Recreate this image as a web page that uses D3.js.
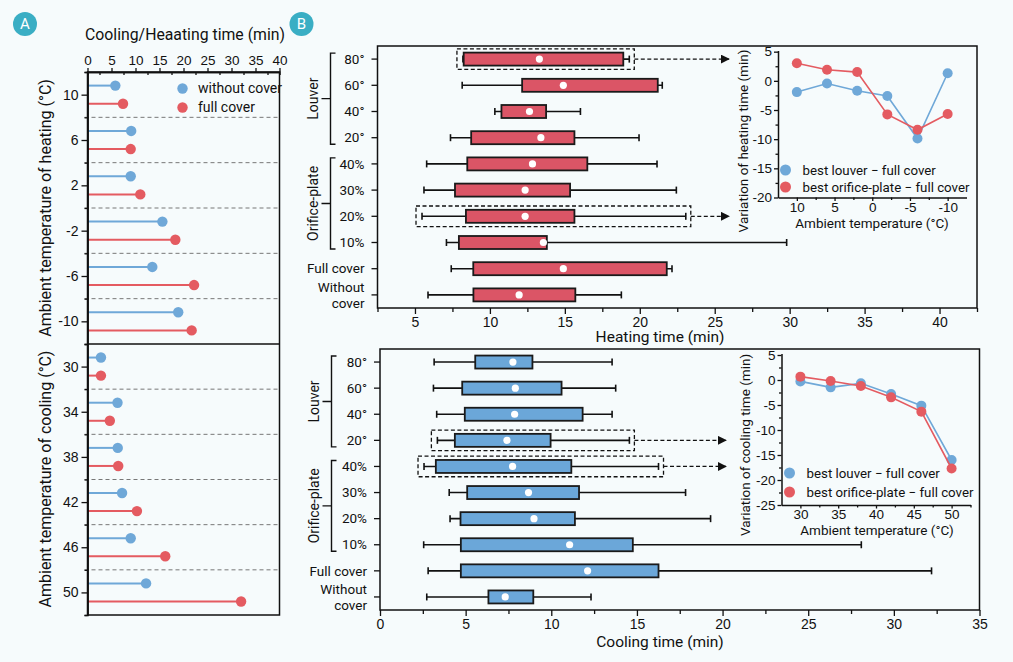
<!doctype html>
<html lang="en">
<head>
  <meta charset="utf-8">
  <title>Heating and cooling time</title>
  <script src="https://d3js.org/d3.v7.min.js"></script>
  <style>
    body { margin: 0; background: #f6fbfc; }
    svg { font-family: Roboto, 'Liberation Sans', sans-serif; display: block; }
  </style>
</head>
<body>
  <div id="chart"></div>
<script>
  // ---- panel A data (lollipops)
  var heat_temps = [10, 6, 2, -2, -6, -10];
  var heat_without = [5.8, 9.1, 9.0, 15.6, 13.5, 18.9];
  var heat_full = [7.4, 9.0, 11.0, 18.3, 22.2, 21.7];
  var cool_temps = [30, 34, 38, 42, 46, 50];
  var cool_without = [2.8, 6.25, 6.3, 7.2, 9.0, 12.2];
  var cool_full = [2.8, 4.65, 6.4, 10.3, 16.2, 32.0];
  var heat_sep = [8, 4, 0, -4, -8];
  var cool_sep = [32, 36, 40, 44, 48];

  // ---- panel B data (box plots)
  var rows = ['80°', '60°', '40°', '20°', '40%', '30%', '20%', '10%', 'Full cover', 'Without\ncover'];
  var heat_min  = [8.2, 8.15, 10.33, 7.37, 5.78, 5.6, 5.47, 7.1, 7.42, 5.87];
  var heat_q1   = [8.25, 12.15, 10.77, 8.75, 8.49, 7.67, 8.4, 7.93, 8.89, 8.9];
  var heat_q3   = [18.9, 21.2, 13.75, 15.64, 16.5, 15.35, 15.64, 13.8, 21.8, 15.7];
  var heat_max  = [19.3, 21.5, 16.04, 19.95, 21.15, 22.44, 23.07, 29.8, 22.15, 18.77];
  var heat_mean = [13.3, 14.9, 12.64, 13.4, 12.84, 12.35, 12.35, 13.57, 14.9, 11.95];
  var cool_min  = [3.16, 3.12, 3.31, 3.35, 2.57, 4.04, 4.09, 2.55, 2.81, 2.73];
  var cool_q1   = [5.56, 4.8, 4.95, 4.37, 3.26, 5.09, 4.7, 4.72, 4.72, 6.33];
  var cool_q3   = [8.9, 10.6, 11.83, 9.96, 11.17, 11.62, 11.38, 14.76, 16.26, 8.95];
  var cool_max  = [13.55, 13.76, 13.55, 14.56, 16.26, 17.84, 19.3, 28.1, 32.2, 12.32];
  var cool_mean = [7.76, 7.9, 7.86, 7.41, 7.74, 8.67, 8.99, 11.07, 12.12, 7.31];
  var heat_best = ['80°', '20%'];
  var cool_best = ['20°', '40%'];

  // ---- inset data (best - full cover)
  var heat_louver_diff = [-1.93, -0.45, -1.7, -2.6, -9.9, 1.3];
  var heat_orifice_diff = [3.0, 1.9, 1.5, -5.75, -8.4, -5.7];
  var cool_louver_diff = [-0.28, -1.47, -0.67, -2.8, -5.13, -16.0];
  var cool_orifice_diff = [0.67, -0.2, -1.2, -3.47, -6.33, -17.7];

  var blue = '#6fa8d8', red = '#e45b61';
  var box_red = '#db5566', box_blue = '#6ba7d9';
  var badge = '#3aaec4';
  var plain = d => String(d); // hyphen minus like the original

  var svg = d3.select('#chart').append('svg')
    .attr('width', 1013).attr('height', 662)
    .style('background', '#f6fbfc');

  svg.append('defs').append('marker')
    .attr('id', 'arrow').attr('viewBox', '0 0 10 10')
    .attr('refX', 9).attr('refY', 5)
    .attr('markerWidth', 7).attr('markerHeight', 7)
    .attr('orient', 'auto')
    .append('path').attr('d', 'M0,0L10,5L0,10Z').attr('fill', '#111');

  function style_axis(g, size) {
    g.selectAll('path.domain').attr('stroke', '#111').attr('stroke-width', 1.5);
    g.selectAll('.tick line').attr('stroke', '#111').attr('stroke-width', 1.3);
    g.selectAll('.tick text').attr('fill', '#111').style('font-size', size + 'px');
  }

  // badges
  [['A', 25], ['B', 301.5]].forEach(function (b) {
    svg.append('circle').attr('cx', b[1]).attr('cy', 24).attr('r', 12).attr('fill', badge);
    svg.append('text').attr('x', b[1]).attr('y', 24).attr('dy', '0.36em')
      .attr('text-anchor', 'middle').attr('fill', '#fff').style('font-size', '15px').text(b[0]);
  });

  // ================= panel A
  var xA = d3.scaleLinear().domain([0, 40]).range([87.5, 279.5]);
  var yHeat = d3.scaleLinear().domain([12, -12]).range([72, 344]);
  var yCool = d3.scaleLinear().domain([28, 52]).range([344, 615]);

  var pA = svg.append('g');

  // dashed separators
  pA.selectAll('line.hsep').data(heat_sep).enter().append('line')
    .attr('x1', xA(0) - 3).attr('x2', xA(40))
    .attr('y1', d => yHeat(d)).attr('y2', d => yHeat(d))
    .attr('stroke', '#777').attr('stroke-dasharray', '4,3').attr('stroke-width', 1);
  pA.selectAll('line.csep').data(cool_sep).enter().append('line')
    .attr('x1', xA(0) - 3).attr('x2', xA(40))
    .attr('y1', d => yCool(d)).attr('y2', d => yCool(d))
    .attr('stroke', '#777').attr('stroke-dasharray', '4,3').attr('stroke-width', 1);

  function lollipop(temps, vals, yscale, off, color) {
    var g = pA.append('g');
    g.selectAll('line').data(vals).enter().append('line')
      .attr('x1', xA(0)).attr('x2', d => xA(d))
      .attr('y1', (d, i) => yscale(temps[i] + off)).attr('y2', (d, i) => yscale(temps[i] + off))
      .attr('stroke', color).attr('stroke-width', 2);
    g.selectAll('circle').data(vals).enter().append('circle')
      .attr('cx', d => xA(d)).attr('cy', (d, i) => yscale(temps[i] + off))
      .attr('r', 5.2).attr('fill', color);
  }
  lollipop(heat_temps, heat_without, yHeat, 0.8, blue);
  lollipop(heat_temps, heat_full, yHeat, -0.8, red);
  lollipop(cool_temps, cool_without, yCool, -0.8, blue);
  lollipop(cool_temps, cool_full, yCool, 0.8, red);

  // frame
  pA.append('rect').attr('x', xA(0)).attr('y', yHeat(12))
    .attr('width', xA(40) - xA(0)).attr('height', yCool(52) - yHeat(12))
    .attr('fill', 'none').attr('stroke', '#111').attr('stroke-width', 1.5);
  pA.append('line').attr('x1', xA(0)).attr('x2', xA(40))
    .attr('y1', yHeat(-12)).attr('y2', yHeat(-12))
    .attr('stroke', '#111').attr('stroke-width', 1.5);

  // axes
  var axA = pA.append('g').attr('transform', 'translate(0,' + yHeat(12) + ')')
    .call(d3.axisTop(xA).tickValues(d3.range(0, 41, 5)).tickSize(4).tickSizeOuter(0).tickPadding(3));
  style_axis(axA, 13.5);
  var axAm = pA.append('g').attr('transform', 'translate(0,' + yHeat(12) + ')')
    .call(d3.axisTop(xA).tickValues(d3.range(2.5, 40, 5)).tickSize(-3).tickFormat(''));
  style_axis(axAm, 12);

  var ayH = pA.append('g').attr('transform', 'translate(' + xA(0) + ',0)')
    .call(d3.axisLeft(yHeat).tickValues(heat_temps).tickFormat(plain).tickSize(6).tickSizeOuter(0).tickPadding(3));
  style_axis(ayH, 14);
  var ayHm = pA.append('g').attr('transform', 'translate(' + xA(0) + ',0)')
    .call(d3.axisLeft(yHeat).tickValues([12].concat(heat_sep)).tickSize(3).tickFormat(''));
  style_axis(ayHm, 12);
  var ayC = pA.append('g').attr('transform', 'translate(' + xA(0) + ',0)')
    .call(d3.axisLeft(yCool).tickValues(cool_temps).tickFormat(plain).tickSize(6).tickSizeOuter(0).tickPadding(3));
  style_axis(ayC, 14);
  var ayCm = pA.append('g').attr('transform', 'translate(' + xA(0) + ',0)')
    .call(d3.axisLeft(yCool).tickValues(cool_sep.concat([52])).tickSize(3).tickFormat(''));
  style_axis(ayCm, 12);

  pA.append('text').attr('x', 185).attr('y', 40)
    .attr('text-anchor', 'middle').style('font-size', '15.8px').attr('fill', '#111')
    .text('Cooling/Heaating time (min)');
  pA.append('text').attr('transform', 'translate(45,208) rotate(-90)').attr('dy', '0.35em')
    .attr('text-anchor', 'middle').style('font-size', '16px').attr('fill', '#111')
    .text('Ambient temperature of heating (°C)');
  pA.append('text').attr('transform', 'translate(45,479) rotate(-90)').attr('dy', '0.35em')
    .attr('text-anchor', 'middle').style('font-size', '16px').attr('fill', '#111')
    .text('Ambient temperature of cooling (°C)');

  // legend A
  [['without cover', blue, 88.5], ['full cover', red, 107.5]].forEach(function (l) {
    pA.append('circle').attr('cx', 182.5).attr('cy', l[2]).attr('r', 5.2).attr('fill', l[1]);
    pA.append('text').attr('x', 198).attr('y', l[2]).attr('dy', '0.35em')
      .style('font-size', '14px').attr('fill', '#111').text(l[0]);
  });

  // ================= panel B box plots
  function box_panel(opt) {
    var x = opt.x, y = opt.y;
    var g = svg.append('g');
    var cy = r => y(r) + y.bandwidth() / 2;
    var x0 = x.range()[0], x1 = x.range()[1];
    var y0 = y.range()[0], y1 = y.range()[1];

    var row = g.selectAll('g.row').data(rows).enter().append('g');
    row.append('line')
      .attr('x1', (d, i) => x(opt.min[i])).attr('x2', (d, i) => x(opt.max[i]))
      .attr('y1', d => cy(d)).attr('y2', d => cy(d))
      .attr('stroke', '#111').attr('stroke-width', 1.6);
    row.append('line')
      .attr('x1', (d, i) => x(opt.min[i])).attr('x2', (d, i) => x(opt.min[i]))
      .attr('y1', d => cy(d) - 3.5).attr('y2', d => cy(d) + 3.5)
      .attr('stroke', '#111').attr('stroke-width', 1.6);
    row.append('line')
      .attr('x1', (d, i) => x(opt.max[i])).attr('x2', (d, i) => x(opt.max[i]))
      .attr('y1', d => cy(d) - 3.5).attr('y2', d => cy(d) + 3.5)
      .attr('stroke', '#111').attr('stroke-width', 1.6);
    row.append('rect')
      .attr('x', (d, i) => x(opt.q1[i])).attr('width', (d, i) => x(opt.q3[i]) - x(opt.q1[i]))
      .attr('y', d => cy(d) - 6.5).attr('height', 13)
      .attr('fill', opt.fill).attr('stroke', '#1a1a1a').attr('stroke-width', 1.8);
    row.append('circle')
      .attr('cx', (d, i) => x(opt.mean[i])).attr('cy', d => cy(d))
      .attr('r', 3.6).attr('fill', '#fff');

    // highlighted best cases
    opt.best.forEach(function (b) {
      var i = rows.indexOf(b);
      var left = x(opt.min[i]) - 6, right = x(opt.max[i]) + 5;
      g.append('rect').attr('x', left).attr('y', cy(b) - 10.3)
        .attr('width', right - left).attr('height', 20.6)
        .attr('fill', 'none').attr('stroke', '#111').attr('stroke-width', 1.3)
        .attr('stroke-dasharray', '4,2.5');
      g.append('line').attr('x1', right).attr('x2', opt.arrow_end)
        .attr('y1', cy(b)).attr('y2', cy(b))
        .attr('stroke', '#111').attr('stroke-width', 1.3)
        .attr('stroke-dasharray', '4,2.5').attr('marker-end', 'url(#arrow)');
    });

    // frame + axes
    g.append('rect').attr('x', x0).attr('y', y0).attr('width', x1 - x0).attr('height', y1 - y0)
      .attr('fill', 'none').attr('stroke', '#111').attr('stroke-width', 1.5);
    var ax = g.append('g').attr('transform', 'translate(0,' + y1 + ')')
      .call(d3.axisBottom(x).tickValues(opt.ticks).tickSize(6).tickSizeOuter(0).tickPadding(3));
    style_axis(ax, 14);
    ax.select('path.domain').remove();
    var axm = g.append('g').attr('transform', 'translate(0,' + y1 + ')')
      .call(d3.axisBottom(x).tickValues(opt.minor).tickSize(4).tickFormat(''));
    style_axis(axm, 12);
    axm.select('path.domain').remove();
    var ay = g.append('g').attr('transform', 'translate(' + x0 + ',0)')
      .call(d3.axisLeft(y).tickSize(6).tickSizeOuter(0).tickFormat(''));
    style_axis(ay, 13);
    ay.select('path.domain').remove();

    // row labels
    g.selectAll('text.rowlab').data(rows).enter().append('text')
      .attr('x', x0 - 13).attr('y', d => cy(d))
      .attr('text-anchor', 'end').style('font-size', '13.5px').attr('fill', '#111')
      .each(function (d) {
        var lines = d.split('\n');
        var t = d3.select(this);
        lines.forEach(function (s, k) {
          t.append('tspan').attr('x', x0 - 13)
            .attr('dy', k === 0 ? ((lines.length - 1) * -0.6 + 0.35) + 'em' : '1.2em')
            .text(s);
        });
      });

    // group brackets
    [['Louver', 0, 3], ['Orifice-plate', 4, 7]].forEach(function (grp) {
      var top = cy(rows[grp[1]]) - 6, bot = cy(rows[grp[2]]) + 6.5;
      var bx = opt.bracket_x, mid = (top + bot) / 2;
      g.append('path')
        .attr('d', 'M' + (bx + 5) + ',' + top + 'H' + bx + 'V' + bot + 'H' + (bx + 5) +
          'M' + bx + ',' + mid + 'H' + (bx - 9))
        .attr('fill', 'none').attr('stroke', '#111').attr('stroke-width', 1.4);
      g.append('text').attr('transform', 'translate(' + (bx - 17) + ',' + mid + ') rotate(-90)')
        .attr('dy', '0.35em').attr('text-anchor', 'middle')
        .style('font-size', '14px').attr('fill', '#111').text(grp[0]);
    });

    g.append('text').attr('x', 660).attr('y', opt.title_y)
      .attr('text-anchor', 'middle').style('font-size', '15.5px').attr('fill', '#111')
      .text(opt.title);
  }

  var xH = d3.scaleLinear().domain([2.5, 42.5]).range([377.5, 977]);
  var yH = d3.scaleBand().domain(rows).range([46, 308]);
  box_panel({
    x: xH, y: yH, fill: box_red,
    min: heat_min, q1: heat_q1, q3: heat_q3, max: heat_max, mean: heat_mean,
    best: heat_best, arrow_end: 729,
    ticks: d3.range(5, 41, 5), minor: d3.range(2.5, 43, 5),
    bracket_x: 330.5, title: 'Heating time (min)', title_y: 342
  });

  var xC = d3.scaleLinear().domain([0, 35]).range([380, 979.5]);
  var yC = d3.scaleBand().domain(rows).range([349, 610]);
  box_panel({
    x: xC, y: yC, fill: box_blue,
    min: cool_min, q1: cool_q1, q3: cool_q3, max: cool_max, mean: cool_mean,
    best: cool_best, arrow_end: 726,
    ticks: d3.range(0, 36, 5), minor: d3.range(2.5, 35, 5),
    bracket_x: 331.5, title: 'Cooling time (min)', title_y: 647
  });

  // ================= insets
  function inset(opt) {
    var g = svg.append('g');
    var x = opt.x, y = opt.y;
    var xl = x.range()[0], yb = y.range()[0];

    var ax = g.append('g').attr('transform', 'translate(0,' + yb + ')')
      .call(d3.axisBottom(x).tickValues(opt.xticks).tickFormat(plain).tickSize(3.5).tickSizeOuter(0).tickPadding(1));
    style_axis(ax, 13.5);
    var axm = g.append('g').attr('transform', 'translate(0,' + yb + ')')
      .call(d3.axisBottom(x).tickValues(opt.xminor).tickSize(2.5).tickFormat(''));
    style_axis(axm, 12);
    axm.select('path.domain').remove();
    var ay = g.append('g').attr('transform', 'translate(' + xl + ',0)')
      .call(d3.axisLeft(y).tickValues(opt.yticks).tickFormat(plain).tickSize(4).tickSizeOuter(0).tickPadding(2));
    style_axis(ay, 13.5);
    var aym = g.append('g').attr('transform', 'translate(' + xl + ',0)')
      .call(d3.axisLeft(y).tickValues(opt.yminor).tickSize(2.5).tickFormat(''));
    style_axis(aym, 12);
    aym.select('path.domain').remove();

    [[opt.louver, blue], [opt.orifice, red]].forEach(function (s) {
      var line = d3.line().x((d, i) => x(opt.temps[i])).y(d => y(d));
      g.append('path').datum(s[0]).attr('d', line)
        .attr('fill', 'none').attr('stroke', s[1]).attr('stroke-width', 1.6);
      g.selectAll(null).data(s[0]).enter().append('circle')
        .attr('cx', (d, i) => x(opt.temps[i])).attr('cy', d => y(d))
        .attr('r', 5).attr('fill', s[1]);
    });

    [['best louver \u2212 full cover', blue, 0], ['best orifice-plate \u2212 full cover', red, 1]].forEach(function (l) {
      var ly = opt.leg_y + l[2] * opt.leg_dy;
      g.append('circle').attr('cx', opt.leg_x).attr('cy', ly).attr('r', 5.5).attr('fill', l[1]);
      g.append('text').attr('x', opt.leg_x + 17).attr('y', ly).attr('dy', '0.35em')
        .style('font-size', '13.3px').attr('fill', '#111').text(l[0]);
    });

    g.append('text').attr('transform', 'translate(' + opt.ytitle_x + ',' + opt.ytitle_y + ') rotate(-90)')
      .attr('dy', '0.35em').attr('text-anchor', 'middle')
      .style('font-size', '13.5px').attr('fill', '#111').text(opt.ytitle);
    g.append('text').attr('x', opt.xtitle_x).attr('y', opt.xtitle_y)
      .attr('text-anchor', 'middle').style('font-size', '13.5px').attr('fill', '#111')
      .text('Ambient temperature (°C)');
  }

  inset({
    x: d3.scaleLinear().domain([12.5, -12.5]).range([778, 966.5]),
    y: d3.scaleLinear().domain([-20, 5.2]).range([197.5, 50.5]),
    temps: heat_temps, louver: heat_louver_diff, orifice: heat_orifice_diff,
    xticks: [10, 5, 0, -5, -10], xminor: [7.5, 2.5, -2.5, -7.5],
    yticks: [-20, -15, -10, -5, 0, 5], yminor: [-17.5, -12.5, -7.5, -2.5, 2.5],
    leg_x: 785.5, leg_y: 170, leg_dy: 17,
    ytitle: 'Variation of heating time (min)', ytitle_x: 743, ytitle_y: 141,
    xtitle_x: 872, xtitle_y: 228
  });

  inset({
    x: d3.scaleLinear().domain([27.5, 52.5]).range([781.5, 970.5]),
    y: d3.scaleLinear().domain([-25, 5.3]).range([505, 353.5]),
    temps: cool_temps, louver: cool_louver_diff, orifice: cool_orifice_diff,
    xticks: [30, 35, 40, 45, 50], xminor: [32.5, 37.5, 42.5, 47.5, 52.5],
    yticks: [-25, -20, -15, -10, -5, 0, 5], yminor: [-22.5, -17.5, -12.5, -7.5, -2.5, 2.5],
    leg_x: 789.5, leg_y: 473, leg_dy: 19,
    ytitle: 'Variation of cooling time (min)', ytitle_x: 745, ytitle_y: 445,
    xtitle_x: 877, xtitle_y: 535
  });
</script>
</body>
</html>
